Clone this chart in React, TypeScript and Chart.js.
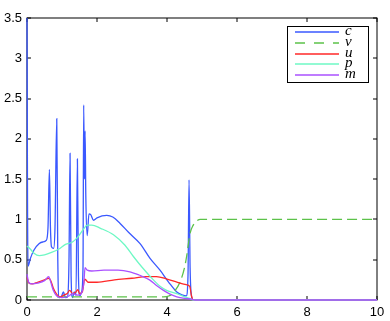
import { useEffect, useRef } from 'react';
import { Chart, registerables } from 'chart.js';

Chart.register(...registerables);

const xTicks = [0, 2, 4, 6, 8, 10];
const yTicks = [0, 0.5, 1, 1.5, 2, 2.5, 3, 3.5];
const seriesNames = ['c', 'v', 'u', 'p', 'm'];

const cX = [0, 0.015, 0.03, 0.1, 0.2, 0.35, 0.45, 0.55, 0.6, 0.64, 0.67, 0.7, 0.76, 0.8, 0.85, 0.88, 0.92, 0.98, 1.04, 1.1, 1.16, 1.2, 1.23, 1.26, 1.3, 1.35, 1.4, 1.44, 1.47, 1.51, 1.56, 1.6, 1.62, 1.64, 1.66, 1.68, 1.72, 1.77, 1.82, 1.9, 2.0, 2.28, 2.45, 2.66, 2.9, 3.23, 3.51, 3.8, 4.05, 4.28, 4.45, 4.55, 4.6, 4.63, 4.66, 4.7, 4.75, 10];
const cY = [3.5, 1.2, 0.42, 0.52, 0.62, 0.7, 0.72, 0.74, 0.9, 1.62, 0.9, 0.66, 0.64, 0.9, 2.25, 0.5, 0.03, 0.04, 0.1, 0.03, 0.04, 0.5, 1.82, 0.3, 0.03, 0.1, 0.06, 1.75, 0.3, 0.05, 0.1, 0.4, 2.42, 1.5, 2.1, 1.3, 0.8, 1.07, 1.06, 0.99, 1.02, 1.05, 1.03, 0.95, 0.84, 0.7, 0.52, 0.37, 0.22, 0.1, 0.06, 0.05, 0.3, 1.49, 0.4, 0.05, 0, 0];

const vX = [0, 3.9, 4.05, 4.2, 4.37, 4.5, 4.56, 4.66, 4.75, 4.85, 4.95, 10];
const vY = [0.04, 0.04, 0.05, 0.1, 0.22, 0.4, 0.54, 0.83, 0.93, 0.98, 1.0, 1.0];

const uX = [0, 0.05, 0.15, 0.3, 0.5, 0.62, 0.68, 0.75, 0.85, 0.95, 1.05, 1.15, 1.22, 1.3, 1.4, 1.45, 1.5, 1.58, 1.65, 1.7, 1.75, 2.0, 2.5, 3.0, 3.4, 3.7, 4.0, 4.3, 4.55, 4.65, 4.7, 4.75, 10];
const uY = [0.28, 0.21, 0.2, 0.22, 0.25, 0.27, 0.24, 0.15, 0.07, 0.04, 0.06, 0.08, 0.12, 0.08, 0.1, 0.13, 0.08, 0.1, 0.26, 0.24, 0.22, 0.22, 0.25, 0.27, 0.29, 0.29, 0.26, 0.22, 0.19, 0.17, 0.05, 0, 0];

const pX = [0, 0.1, 0.2, 0.35, 0.5, 0.7, 0.9, 1.1, 1.3, 1.45, 1.6, 1.72, 1.85, 2.1, 2.47, 2.8, 3.04, 3.3, 3.61, 3.8, 3.99, 4.28, 4.5, 4.65, 4.75, 10];
const pY = [0.67, 0.63, 0.58, 0.55, 0.56, 0.59, 0.63, 0.69, 0.72, 0.78, 0.87, 0.93, 0.93, 0.89, 0.81, 0.68, 0.54, 0.4, 0.25, 0.17, 0.12, 0.08, 0.04, 0.02, 0, 0];

const mX = [0, 0.05, 0.15, 0.3, 0.5, 0.62, 0.68, 0.75, 0.85, 1.0, 1.2, 1.3, 1.45, 1.55, 1.62, 1.66, 1.72, 1.85, 2.2, 2.6, 2.94, 3.2, 3.5, 3.7, 3.9, 4.1, 4.28, 4.5, 4.7, 4.8, 10];
const mY = [0.32, 0.22, 0.2, 0.21, 0.24, 0.29, 0.22, 0.12, 0.05, 0.03, 0.05, 0.08, 0.06, 0.08, 0.2, 0.4, 0.37, 0.36, 0.37, 0.37, 0.35, 0.31, 0.25, 0.18, 0.12, 0.07, 0.04, 0.02, 0.01, 0, 0];

const colors = ['#3a58ff', '#5cc24a', '#ff2828', '#6ef8c4', '#aa50ff'];

const framePlugin = {
  id: 'frameTicks',
  beforeDatasetsDraw(chart: any) {
    const { ctx, chartArea } = chart;
    const { left, right, top, bottom } = chartArea;
    const xs = chart.scales.x;
    const ys = chart.scales.y;
    ctx.save();
    ctx.strokeStyle = '#000';
    ctx.lineWidth = 1;
    ctx.strokeRect(left, top, right - left, bottom - top);
    ctx.beginPath();
    const tl = 4;
    for (const t of xTicks) {
      const px = Math.round(xs.getPixelForValue(t));
      ctx.moveTo(px, bottom);
      ctx.lineTo(px, bottom - tl);
      ctx.moveTo(px, top);
      ctx.lineTo(px, top + tl);
    }
    for (const t of yTicks) {
      const py = Math.round(ys.getPixelForValue(t));
      ctx.moveTo(left, py);
      ctx.lineTo(left + tl, py);
      ctx.moveTo(right, py);
      ctx.lineTo(right - tl, py);
    }
    ctx.stroke();
    ctx.restore();
  },
  afterDraw(chart: any) {
    const { ctx } = chart;
    ctx.save();
    const bx = 287, by = 26, bw = 81, bh = 56;
    ctx.fillStyle = '#fff';
    ctx.fillRect(bx, by, bw, bh);
    ctx.strokeStyle = '#000';
    ctx.lineWidth = 1;
    ctx.strokeRect(bx + 0.5, by + 0.5, bw, bh);
    ctx.font = 'italic 15px "Liberation Serif", "DejaVu Serif", serif';
    ctx.textBaseline = 'middle';
    ctx.textAlign = 'left';
    seriesNames.forEach((name, i) => {
      const y = Math.round(31.7 + i * 10.9);
      ctx.beginPath();
      ctx.strokeStyle = colors[i];
      ctx.lineWidth = 1.5;
      ctx.setLineDash(i === 1 ? [10, 9] : []);
      ctx.moveTo(295, y);
      ctx.lineTo(339, y);
      ctx.stroke();
      ctx.setLineDash([]);
      ctx.fillStyle = '#000';
      ctx.fillText(name, 345, y - 1);
    });
    ctx.restore();
  },
};

function pts(xs: number[], ys: number[]) {
  return xs.map((x, i) => ({ x, y: ys[i] }));
}

export default function App() {
  const ref = useRef<HTMLCanvasElement | null>(null);
  useEffect(() => {
    if (!ref.current) return;
    const series = [
      [cX, cY],
      [vX, vY],
      [uX, uY],
      [pX, pY],
      [mX, mY],
    ];
    const chart = new Chart(ref.current, {
      type: 'line',
      data: {
        datasets: series.map(([xs, ys], i) => ({
          label: seriesNames[i],
          data: pts(xs, ys),
          borderColor: colors[i],
          borderWidth: 1.3,
          borderDash: i === 1 ? [10, 5] : [],
          pointRadius: 0,
          fill: false,
          tension: 0,
          cubicInterpolationMode: 'monotone',
          clip: false,
          order: 5 - i,
        })),
      },
      options: {
        animation: false,
        responsive: false,
        maintainAspectRatio: false,
        layout: { padding: { top: 18, right: 13, left: 0, bottom: 0 } },
        plugins: { legend: { display: false }, tooltip: { enabled: false } },
        scales: {
          x: {
            type: 'linear',
            min: 0,
            max: 10,
            grid: { display: false, drawTicks: false },
            border: { display: false },
            afterBuildTicks: (s: any) => {
              s.ticks = xTicks.map((v) => ({ value: v }));
            },
            afterFit: (s: any) => {
              s.height = 21;
            },
            ticks: {
              padding: 5,
              color: '#000',
              maxRotation: 0,
              callback: (v: any) => String(v),
              font: { family: '"Liberation Sans", Arial, sans-serif', size: 13 },
            },
          },
          y: {
            type: 'linear',
            min: 0,
            max: 3.5,
            grid: { display: false, drawTicks: false },
            border: { display: false },
            afterBuildTicks: (s: any) => {
              s.ticks = yTicks.map((v) => ({ value: v }));
            },
            afterFit: (s: any) => {
              s.width = 27;
            },
            ticks: {
              padding: 5,
              color: '#000',
              callback: (v: any) => String(v),
              font: { family: '"Liberation Sans", Arial, sans-serif', size: 13 },
            },
          },
        },
      },
      plugins: [framePlugin],
    } as any);
    return () => chart.destroy();
  }, []);
  return (
    <div style={{ position: 'fixed', left: 0, top: 0, width: 390, height: 321, background: '#fff' }}>
      <canvas ref={ref} width={390} height={321} style={{ display: 'block', width: 390, height: 321 }} />
    </div>
  );
}
